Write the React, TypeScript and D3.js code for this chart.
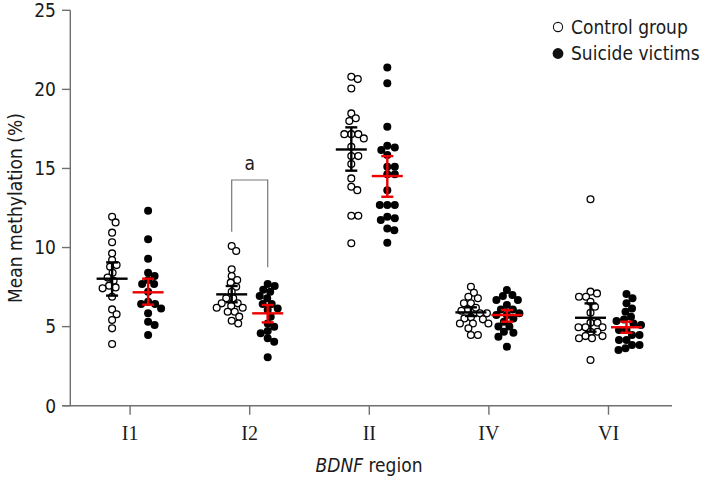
import React from "react";
import * as d3 from "d3";

const categories = ["I1", "I2", "II", "IV", "VI"];

const controlValues: number[][] = [
  [11.95, 11.59, 10.94, 10.33, 9.63, 9.21, 8.89, 8.79, 8.4, 8.1, 7.9, 7.59, 7.48, 7.42, 6.89, 6.09, 5.78, 5.42, 4.89, 3.9],
  [10.1, 9.78, 8.62, 8.2, 7.95, 7.78, 7.52, 7.2, 6.79, 6.79, 6.47, 6.47, 6.3, 6.19, 6.19, 5.94, 5.94, 5.63, 5.37, 5.2],
  [20.8, 20.65, 20.06, 18.48, 18.17, 18.0, 17.17, 17.17, 17.17, 16.9, 16.37, 15.78, 15.78, 15.28, 14.37, 13.84, 13.63, 12.01, 12.01, 10.27],
  [7.52, 7.14, 6.89, 6.79, 6.47, 6.47, 6.19, 6.09, 6.0, 5.84, 5.84, 5.6, 5.52, 5.46, 5.2, 5.2, 5.2, 4.89, 4.47, 4.47],
  [13.05, 7.21, 7.1, 6.89, 6.89, 6.57, 6.26, 5.88, 5.25, 5.25, 4.96, 4.96, 4.96, 4.68, 4.68, 4.4, 4.4, 4.26, 4.26, 2.89],
];

const suicideValues: number[][] = [
  [12.33, 10.52, 9.29, 8.41, 8.2, 7.95, 7.69, 7.69, 7.2, 6.57, 6.43, 6.43, 6.15, 5.84, 5.31, 5.1, 4.47],
  [7.69, 7.57, 7.33, 7.21, 6.93, 6.79, 6.43, 6.43, 6.15, 6.05, 5.63, 5.2, 4.99, 4.72, 4.58, 4.26, 4.05, 3.06],
  [21.39, 20.38, 17.64, 16.43, 16.33, 16.16, 15.85, 15.11, 15.11, 14.63, 14.63, 13.63, 12.69, 12.69, 12.69, 11.95, 11.85, 11.74, 11.21, 11.1, 10.3],
  [7.31, 7.0, 6.93, 6.68, 6.68, 6.37, 6.09, 6.09, 5.85, 5.73, 5.73, 5.52, 5.31, 5.0, 5.0, 4.68, 4.61, 4.36, 3.73],
  [7.06, 6.79, 6.47, 6.15, 5.94, 5.63, 5.45, 5.35, 5.2, 5.1, 4.79, 4.79, 4.47, 4.47, 4.15, 4.15, 3.84, 3.84, 3.63, 3.52],
];

const controlMean = [8.03, 7.04, 16.2, 5.9, 5.56];
const controlLow = [6.96, 6.54, 14.86, 5.67, 4.68];
const controlHigh = [9.06, 7.57, 17.6, 6.22, 6.47];
const suicideMean = [7.17, 5.84, 14.52, 5.73, 4.96];
const suicideLow = [6.39, 5.27, 13.21, 5.31, 4.61];
const suicideHigh = [8.03, 6.37, 15.78, 6.05, 5.31];

const yTicks = [0, 5, 10, 15, 20, 25];
const legendLabels = ["Control group", "Suicide victims"];
const sigCategory = "I2";
const sigLevel = 14.27;
const sigLabel = "a";

const W = 702;
const H = 477;
const SANS = "'DejaVu Sans Condensed', 'DejaVu Sans', Verdana, sans-serif";
const SERIF = "'Liberation Serif', 'Times New Roman', serif";
const AXIS = "#707070";
const TXT = "#1a1a1a";
const FS = 19;

function swarm(values: number[], cx: number, y: d3.ScaleLinear<number, number>, minDist: number) {
  const sorted = values.map((v, i) => ({ v, i })).sort((a, b) => b.v - a.v);
  const placed: { x: number; y: number; v: number }[] = [];
  for (const p of sorted) {
    const py = y(p.v);
    let best = 0;
    for (let k = 0; k < 200; k++) {
      const off = k === 0 ? 0 : (k % 2 === 1 ? 1 : -1) * Math.ceil(k / 2) * 0.5;
      const px = cx + off;
      const ok = placed.every((q) => Math.hypot(q.x - px, q.y - py) >= minDist);
      if (ok) { best = off; break; }
    }
    placed.push({ x: cx + best, y: py, v: p.v });
  }
  return placed;
}

export default function App() {
  const y = d3.scaleLinear().domain([0, 25]).range([405.7, 10.3]);
  const x = d3.scaleBand<string>().domain(categories).range([70.3, 668.3]).padding(0);
  const center = (c: string) => (x(c) as number) + x.bandwidth() / 2;
  const groupOffset = 18;

  const errBar = (cx: number, m: number, lo: number, hi: number, color: string, key: string) => (
    <g key={key} stroke={color} strokeWidth={2.4}>
      <line x1={cx - 15.5} x2={cx + 15.5} y1={y(m)} y2={y(m)} />
      <line x1={cx} x2={cx} y1={y(lo)} y2={y(hi)} />
      <line x1={cx - 6} x2={cx + 6} y1={y(lo)} y2={y(lo)} />
      <line x1={cx - 6} x2={cx + 6} y1={y(hi)} y2={y(hi)} />
    </g>
  );

  const sigIdx = categories.indexOf(sigCategory);
  const sx1 = center(sigCategory) - groupOffset;
  const sx2 = center(sigCategory) + groupOffset;
  const cMax = d3.max(controlValues[sigIdx]) as number;
  const sMax = d3.max(suicideValues[sigIdx]) as number;

  return (
    <svg width={W} height={H} style={{ position: "absolute", left: 0, top: 0, background: "#fff" }}>
      {/* axes */}
      <line x1={70.3} x2={70.3} y1={y(25)} y2={y(0)} stroke={AXIS} strokeWidth={1.4} />
      <line x1={62.5} x2={672} y1={y(0)} y2={y(0)} stroke={AXIS} strokeWidth={1.4} />
      {yTicks.map((t) => (
        <g key={t}>
          <line x1={62} x2={70.3} y1={y(t)} y2={y(t)} stroke={AXIS} strokeWidth={1.4} />
          <text x={56} y={y(t)} dy="0.36em" textAnchor="end" fontFamily={SANS} fontSize={FS} fill={TXT}>
            {t}
          </text>
        </g>
      ))}
      {categories.map((c) => (
        <g key={c}>
          <line x1={center(c)} x2={center(c)} y1={y(0)} y2={y(0) + 9} stroke={AXIS} strokeWidth={1.4} />
          <text x={center(c)} y={440} textAnchor="middle" fontFamily={SERIF} fontSize={20} fill={TXT}>
            {c}
          </text>
        </g>
      ))}
      <text x={369} y={472} textAnchor="middle" fontFamily={SANS} fontSize={FS} fill={TXT}>
        <tspan fontStyle="italic">BDNF</tspan> region
      </text>
      <text
        transform={`translate(22,${208}) rotate(-90)`}
        textAnchor="middle"
        fontFamily={SANS}
        fontSize={FS}
        fill={TXT}
      >
        Mean methylation (%)
      </text>

      {/* significance bracket */}
      <g stroke="#777" strokeWidth={1.2} fill="none">
        <path d={`M${sx1},${y(cMax + 0.9)}V${y(sigLevel)}H${sx2}V${y(sMax + 1.06)}`} />
      </g>
      <text x={(sx1 + sx2) / 2} y={y(sigLevel) - 10} textAnchor="middle" fontFamily={SANS} fontSize={FS} fill={TXT}>
        {sigLabel}
      </text>

      {/* points */}
      {categories.map((c, i) => {
        const cpts = swarm(controlValues[i], center(c) - groupOffset, y, 6.6);
        const spts = swarm(suicideValues[i], center(c) + groupOffset, y, 7.2);
        return (
          <g key={c}>
            {cpts.map((p, j) => (
              <circle key={"c" + j} cx={p.x} cy={p.y} r={3.4} fill="#fff" stroke="#000" strokeWidth={1.3} />
            ))}
            {spts.map((p, j) => (
              <circle key={"s" + j} cx={p.x} cy={p.y} r={4} fill="#000" />
            ))}
          </g>
        );
      })}

      {/* error bars */}
      {categories.map((c, i) =>
        errBar(center(c) - groupOffset, controlMean[i], controlLow[i], controlHigh[i], "#000", "ce" + c)
      )}
      {categories.map((c, i) =>
        errBar(center(c) + groupOffset, suicideMean[i], suicideLow[i], suicideHigh[i], "#ee0000", "se" + c)
      )}

      {/* legend */}
      {legendLabels.map((l, i) => (
        <g key={l}>
          <circle
            cx={558}
            cy={27 + i * 26.5}
            r={i === 0 ? 4.6 : 5.4}
            fill={i === 0 ? "#fff" : "#111"}
            stroke={i === 0 ? "#111" : "none"}
            strokeWidth={1.1}
          />
          <text x={571} y={27 + i * 26.5} dy="0.36em" fontFamily={SANS} fontSize={FS} fill={TXT}>
            {l}
          </text>
        </g>
      ))}
    </svg>
  );
}
